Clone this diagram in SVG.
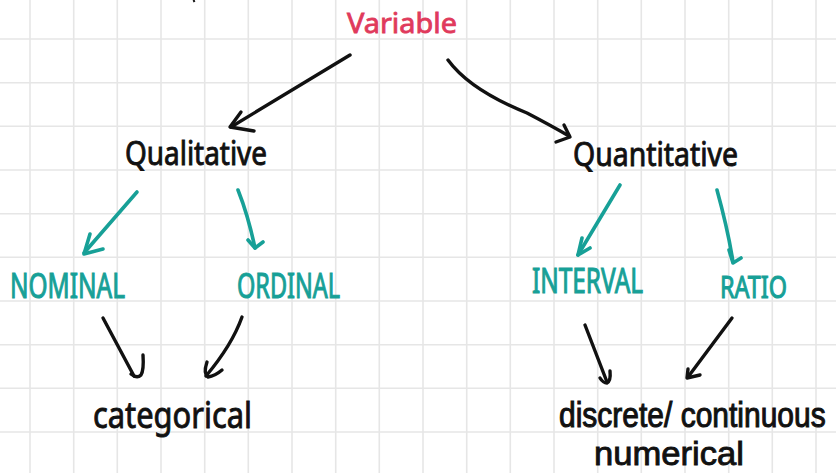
<svg xmlns="http://www.w3.org/2000/svg" width="836" height="473" viewBox="0 0 836 473">
<defs>
<style>
.grid line{stroke:#e6e6e6;stroke-width:1.6}
.t{font-family:"Noto Sans","Liberation Sans",sans-serif}
.l{font-family:"Liberation Sans",Arial,sans-serif}
.blk{fill:#111;stroke:#111;stroke-width:0.9}
.teal{fill:#17a097;stroke:#17a097;stroke-width:1.1}
.red{fill:#e03a5c;stroke:#e03a5c;stroke-width:0.8}
.ab{fill:none;stroke:#111;stroke-width:3.4;stroke-linecap:round;stroke-linejoin:round}
.at{fill:none;stroke:#17a097;stroke-width:3.6;stroke-linecap:round;stroke-linejoin:round}
</style>
</defs>
<rect width="836" height="473" fill="#fff"/>
<g class="grid">
<line x1="30" y1="0" x2="30" y2="473"/><line x1="73.7" y1="0" x2="73.7" y2="473"/><line x1="117.3" y1="0" x2="117.3" y2="473"/><line x1="161" y1="0" x2="161" y2="473"/><line x1="204.7" y1="0" x2="204.7" y2="473"/><line x1="248.3" y1="0" x2="248.3" y2="473"/><line x1="292" y1="0" x2="292" y2="473"/><line x1="335.7" y1="0" x2="335.7" y2="473"/><line x1="379.3" y1="0" x2="379.3" y2="473"/><line x1="423" y1="0" x2="423" y2="473"/><line x1="466.7" y1="0" x2="466.7" y2="473"/><line x1="510.3" y1="0" x2="510.3" y2="473"/><line x1="554" y1="0" x2="554" y2="473"/><line x1="597.7" y1="0" x2="597.7" y2="473"/><line x1="641.3" y1="0" x2="641.3" y2="473"/><line x1="685" y1="0" x2="685" y2="473"/><line x1="728.7" y1="0" x2="728.7" y2="473"/><line x1="772.3" y1="0" x2="772.3" y2="473"/><line x1="816" y1="0" x2="816" y2="473"/>
<line x1="0" y1="39" x2="836" y2="39"/><line x1="0" y1="82.7" x2="836" y2="82.7"/><line x1="0" y1="126.3" x2="836" y2="126.3"/><line x1="0" y1="170" x2="836" y2="170"/><line x1="0" y1="213.7" x2="836" y2="213.7"/><line x1="0" y1="257.3" x2="836" y2="257.3"/><line x1="0" y1="301" x2="836" y2="301"/><line x1="0" y1="344.7" x2="836" y2="344.7"/><line x1="0" y1="388.3" x2="836" y2="388.3"/><line x1="0" y1="432" x2="836" y2="432"/>
</g>
<path d="M193.5 0 L194.5 2" stroke="#111" stroke-width="2" fill="none"/>
<g id="connectors">
<path class="ab" d="M350 55 Q300 85 231 127"/>
<path class="ab" d="M241 112 L230 127 L254 131"/>
<path class="ab" d="M448 60 Q470 90 527 113 Q550 125 569 136"/>
<path class="ab" d="M564 125 L570 137 L556 142"/>
<path class="at" d="M137 192 L84 253"/>
<path class="at" d="M90 234 L84 254 L103 249"/>
<path class="at" d="M238 190 Q248 215 255 248"/>
<path class="at" d="M248 240 L255 248 L263 242"/>
<path class="at" d="M620 185 L578 255"/>
<path class="at" d="M582 238 L578 255 L590 248"/>
<path class="at" d="M717 190 Q728 230 733 262"/>
<path class="at" d="M729 250 L733 263 L741 258"/>
<path class="ab" d="M103 318 L134 376"/>
<path class="ab" d="M143 355 Q144 370 141 375 Q137 379 131 374"/>
<path class="ab" d="M242 317 Q232 345 206 376"/>
<path class="ab" d="M207 362 Q203 374 208 377 Q215 376 222 370"/>
<path class="ab" d="M585 325 L607 382"/>
<path class="ab" d="M610 371 Q611 381 607 383 Q603 383 600 378"/>
<path class="ab" d="M732 318 L688 377"/>
<path class="ab" d="M688 369 L687 378 L700 375"/>
</g>
<g id="variable"><text class="t red" x="347" y="33" font-size="28" textLength="110" lengthAdjust="spacingAndGlyphs">Variable</text></g>
<g id="qualitative"><text class="t blk" x="125" y="165" font-size="32" textLength="142" lengthAdjust="spacingAndGlyphs">Qualitative</text></g>
<g id="quantitative"><text class="t blk" x="573" y="166" font-size="32" textLength="165" lengthAdjust="spacingAndGlyphs">Quantitative</text></g>
<g id="nominal"><text class="t teal" x="10" y="298" font-size="35" textLength="115" lengthAdjust="spacingAndGlyphs">NOMINAL</text></g>
<g id="ordinal"><text class="t teal" x="237" y="298" font-size="35" textLength="103" lengthAdjust="spacingAndGlyphs">ORDINAL</text></g>
<g id="interval"><text class="t teal" x="532" y="293" font-size="35" textLength="111" lengthAdjust="spacingAndGlyphs">INTERVAL</text></g>
<g id="ratio"><text class="t teal" x="720" y="298" font-size="31" textLength="67" lengthAdjust="spacingAndGlyphs">RATIO</text></g>
<g id="categorical"><text class="t blk" x="93" y="428" font-size="36" textLength="159" lengthAdjust="spacingAndGlyphs">categorical</text></g>
<g id="numerical">
<text class="l blk" transform="translate(559,427) scale(1,1.15)" x="0" y="0" font-size="30">discrete/ continuous</text>
<text class="l blk" x="594" y="465" font-size="34" textLength="150" lengthAdjust="spacingAndGlyphs">numerical</text>
</g>
</svg>
